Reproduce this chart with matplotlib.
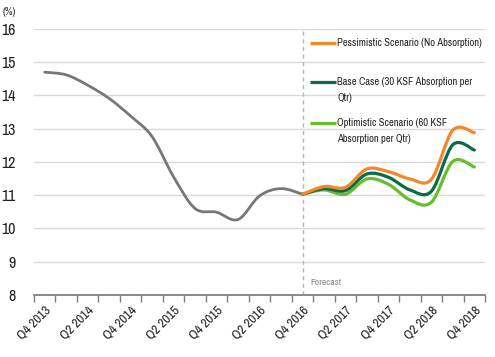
import matplotlib
matplotlib.use("Agg")
import matplotlib.pyplot as plt
from matplotlib.path import Path
from matplotlib.patches import PathPatch
from matplotlib import font_manager
import numpy as np

# pick a narrow font if one is around
names = sorted({f.name for f in font_manager.fontManager.ttflist})
narrow = [n for n in names if 'Narrow' in n or 'Condensed' in n]
plt.rcParams['font.family'] = narrow[:1] + ['DejaVu Sans']
plt.rcParams['font.stretch'] = 'condensed'

# quarterly vacancy data
quarters = ['Q4 2013', 'Q1 2014', 'Q2 2014', 'Q3 2014', 'Q4 2014',
            'Q1 2015', 'Q2 2015', 'Q3 2015', 'Q4 2015',
            'Q1 2016', 'Q2 2016', 'Q3 2016', 'Q4 2016',
            'Q1 2017', 'Q2 2017', 'Q3 2017', 'Q4 2017',
            'Q1 2018', 'Q2 2018', 'Q3 2018', 'Q4 2018']
history = [14.70, 14.62, 14.31, 13.91, 13.38, 12.76, 11.55, 10.60, 10.49,
           10.27, 10.98, 11.20, 11.03]
pessimistic = [11.03, 11.26, 11.24, 11.79, 11.71, 11.49, 11.48, 12.96, 12.88]
base_case = [11.03, 11.20, 11.14, 11.64, 11.54, 11.16, 11.12, 12.52, 12.36]
optimistic = [11.03, 11.16, 11.03, 11.49, 11.33, 10.86, 10.79, 12.02, 11.85]

legend_labels = [['Pessimistic Scenario (No Absorption)'],
                 ['Base Case (30 KSF Absorption per', 'Qtr)'],
                 ['Optimistic Scenario (60 KSF', 'Absorption per Qtr)']]

forecast_start = quarters.index('Q4 2016')

colors = {'hist': '#777777', 'pess': '#F3872A', 'base': '#0C6B47', 'opt': '#68BD2C'}


def smooth_path(xs, ys):
    # excel style smoothed line: catmull-rom segments as cubic beziers
    pts = np.column_stack([xs, ys]).astype(float)
    verts = [pts[0]]
    codes = [Path.MOVETO]
    n = len(pts)
    for i in range(n - 1):
        p0 = pts[i - 1] if i > 0 else pts[i]
        p1 = pts[i]
        p2 = pts[i + 1]
        p3 = pts[i + 2] if i + 2 < n else pts[i + 1]
        c1 = p1 + (p2 - p0) / 6.0
        c2 = p2 - (p3 - p1) / 6.0
        verts += [c1, c2, p2]
        codes += [Path.CURVE4] * 3
    return Path(verts, codes)


fig = plt.figure(figsize=(4.95, 3.57), dpi=100)
ax = fig.add_axes([0.0687, 0.1737, 0.9113, 0.7451])

hx = np.arange(len(history))
fx = np.arange(forecast_start, forecast_start + len(pessimistic))

series = [(hx, history, colors['hist'], 2.0),
          (fx, optimistic, colors['opt'], 2.3),
          (fx, base_case, colors['base'], 2.3),
          (fx, pessimistic, colors['pess'], 2.3)]
for xs, ys, c, lw in series:
    ax.add_patch(PathPatch(smooth_path(xs, ys), facecolor='none', edgecolor=c,
                           lw=lw, capstyle='round', joinstyle='round', zorder=3))

ax.axvline(forecast_start, color='#b5b5b5', lw=1, ls=(0, (3, 2.5)), zorder=2)
ax.text(forecast_start + 0.35, 8.25, 'Forecast', color='#8a8a8a', fontsize=7,
        ha='left', va='bottom')

ax.set_xlim(-0.5, len(quarters) - 0.5)
ax.set_ylim(8, 16)
ax.set_yticks(range(8, 17))
ax.grid(axis='y', color='#d9d9d9', lw=1)
ax.set_axisbelow(True)

ax.set_xticks(np.arange(-0.5, len(quarters)), minor=False)
ax.set_xticklabels([])
ax.set_xticks(np.arange(0, len(quarters), 2), minor=True)
ax.set_xticklabels(quarters[::2], minor=True, rotation=45, ha='right',
                   va='top', rotation_mode='anchor', fontsize=9.5)
ax.tick_params(axis='x', which='major', length=5, width=1, color='#808080', direction='out')
ax.tick_params(axis='x', which='minor', length=0, pad=7, labelcolor='#222222')
ax.tick_params(axis='y', length=0, pad=13, labelsize=11.5, labelcolor='#222222')

for s in ['left', 'right', 'top']:
    ax.spines[s].set_visible(False)
ax.spines['bottom'].set_color('#808080')
ax.spines['bottom'].set_linewidth(1.3)

fig.text(0.006, 0.965, '(%)', fontsize=7.5, color='#222222', ha='left', va='center')

# legend drawn by hand so the key line sits on the first text line
leg_colors = [colors['pess'], colors['base'], colors['opt']]
leg_y = [0.947, 0.801, 0.647]
line_step = 0.06
for lines, c, y in zip(legend_labels, leg_colors, leg_y):
    ax.plot([0.612, 0.670], [y, y], color=c, lw=2.3, transform=ax.transAxes,
            clip_on=False, solid_capstyle='butt')
    for k, txt in enumerate(lines):
        ax.text(0.672, y - k * line_step, txt, transform=ax.transAxes,
                fontsize=7.6, color='#222222', ha='left', va='center')

fig.savefig('out.png', dpi=100)
